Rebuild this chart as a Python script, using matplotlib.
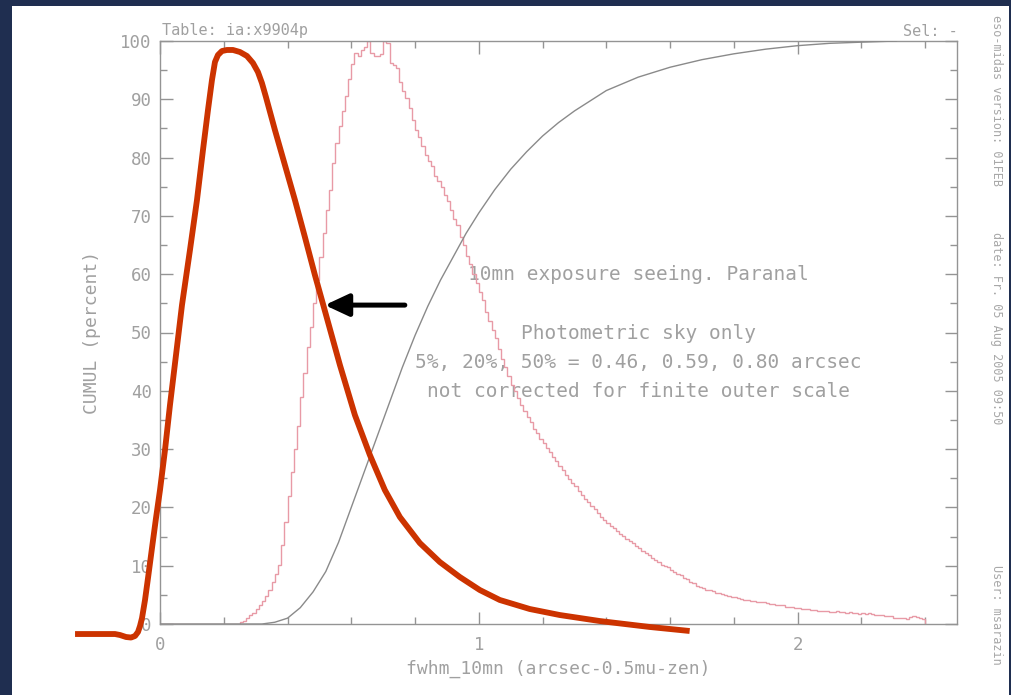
import numpy as np
import matplotlib.pyplot as plt
from matplotlib.patches import Rectangle
from matplotlib.ticker import MultipleLocator

# Seeing histogram, peak normalised to 100; 0.01 arcsec bins from 0.24 on
hist_start = 0.24
bin_width = 0.01
hist_counts = [
    0, 0.3, 0.5, 1.0, 1.5, 1.9,
    2.6, 3.3, 4.0, 4.8, 5.8, 7.2, 8.6, 10.2, 13.5, 17.5,
    22, 26, 30, 34, 39, 43, 47.5, 51, 55, 59,
    63, 67, 71, 74.5, 79, 82.5, 85.5, 88, 90.5, 93.5,
    96, 98, 97.5, 98.5, 99, 100, 98, 97.5, 97.5, 97.8,
    100, 99.7, 96.2, 95.8, 95.3, 93, 91.5, 90.2, 88.5, 86.5,
    84.7, 83.5, 82, 80.5, 79.5, 78.6, 76.8, 76, 75, 73.5,
    72.5, 71, 69.5, 68.5, 66.3, 65, 63.2, 61.8, 60, 58.5,
    57, 55.5, 53.5, 52, 50.5, 49, 47.2, 45.5, 44, 42.5,
    41, 40, 38.8, 37.5, 36.5, 35.5, 34.6, 33.5, 32.7, 31.8,
    31, 30.2, 29.5, 28.7, 28, 27.1, 26.5, 25.6, 24.9, 24.2,
    23.6, 22.8, 22.2, 21.5, 21, 20.2, 19.7, 19, 18.4, 17.9,
    17.4, 16.8, 16.5, 16, 15.4, 15.1, 14.6, 14.2, 13.9, 13.4,
    13, 12.5, 12.2, 11.8, 11.3, 11, 10.7, 10.2, 9.9, 9.8,
    9.3, 9, 8.6, 8.4, 7.9, 7.7, 7.2, 7.0, 6.6, 6.3,
    6.1, 5.9, 5.8, 5.6, 5.4, 5.3, 5.1, 4.9, 4.8, 4.7,
    4.6, 4.5, 4.3, 4.2, 4.1, 4.0, 3.9, 3.8, 3.8, 3.7,
    3.6, 3.5, 3.4, 3.3, 3.2, 3.2, 3.0, 2.9, 2.9, 2.8,
    2.7, 2.6, 2.6, 2.5, 2.4, 2.4, 2.3, 2.3, 2.2, 2.2,
    2.1, 2.1, 2.2, 2.0, 2.0, 1.9, 2.0, 1.9, 1.9, 1.8,
    1.9, 1.8, 1.9, 1.7, 1.6, 1.6, 1.5, 1.4, 1.3, 1.3,
    1.1, 1.0, 1.0, 1.1, 0.9, 1.2, 1.3, 1.2, 1.0, 0.9,
]

# Cumulative distribution (percent)
cumul_x = [0.0, 0.32, 0.36, 0.40, 0.44, 0.48, 0.52, 0.56, 0.60, 0.64, 0.68,
           0.72, 0.76, 0.80, 0.84, 0.88, 0.92, 0.96, 1.00, 1.05, 1.10,
           1.15, 1.20, 1.25, 1.30, 1.40, 1.50, 1.60, 1.70, 1.80, 1.90,
           2.00, 2.10, 2.20, 2.31]
cumul_y = [0, 0, 0.3, 1.0, 2.8, 5.5, 9.0, 14, 20, 26, 32,
           38, 44, 49.5, 54.5, 59, 63, 67, 70.5, 74.5, 78,
           81, 83.7, 86, 88, 91.5, 93.8, 95.5, 96.8, 97.8, 98.6,
           99.2, 99.6, 99.8, 100]

# Hand-drawn red curve laid over the plot
red_x = [-0.2665, -0.2038, -0.1411, -0.1254, -0.1066, -0.0909, -0.0784, -0.0690,
         -0.0627, -0.0564, -0.0470, -0.0376, -0.0251, -0.0125, 0.0, 0.0157,
         0.0313, 0.0502, 0.0690, 0.0940, 0.1160, 0.1348, 0.1505, 0.1630,
         0.1724, 0.1818, 0.1944, 0.2100, 0.2288, 0.2508, 0.2727, 0.2915,
         0.3072, 0.3197, 0.3323, 0.3605, 0.3918, 0.4232, 0.4545, 0.4859,
         0.5078, 0.5643, 0.6113, 0.6583, 0.7053, 0.7524, 0.8150, 0.8777,
         0.9404, 1.0031, 1.0658, 1.1599, 1.2539, 1.3793, 1.5361, 1.6614]
red_y = [-1.72, -1.72, -1.72, -1.89, -2.23, -2.32, -2.06, -1.37,
         -0.34, 1.03, 4.12, 7.89, 13.04, 18.18, 22.98, 29.85,
         37.56, 46.14, 54.72, 64.15, 72.73, 81.30, 88.16, 93.31,
         96.40, 97.60, 98.28, 98.46, 98.46, 98.11, 97.43, 96.23,
         94.68, 92.80, 90.39, 84.73, 78.73, 72.73, 66.38, 59.86,
         55.57, 44.43, 35.85, 28.99, 22.98, 18.35, 13.89, 10.63,
         8.06, 5.83, 4.12, 2.57, 1.54, 0.51, -0.51, -1.20]

arrow_from = (0.768, 54.7)
arrow_to = (0.517, 54.7)

notes = [
    "10mn exposure seeing. Paranal",
    "",
    "Photometric sky only",
    "5%, 20%, 50% = 0.46, 0.59, 0.80 arcsec",
    "not corrected for finite outer scale",
]

mono = "DejaVu Sans Mono"
grey = "#949494"
txt_grey = "#a0a0a0"

W, H = 1012, 695
fig = plt.figure(figsize=(W / 100, H / 100), dpi=100, facecolor="#1f2e50")
# white sheet on the dark background
fig.patches.append(Rectangle((12 / W, 0), (1009 - 12) / W, 1 - 6 / H,
                             transform=fig.transFigure, facecolor="white",
                             edgecolor="none", zorder=-1))

ax = fig.add_axes([160 / W, 1 - 624 / H, (957 - 160) / W, (624 - 41) / H])
ax.set_facecolor("white")
ax.set_xlim(0, 2.5)
ax.set_ylim(0, 100)

edges = np.concatenate([[0.0], hist_start + bin_width * np.arange(len(hist_counts) + 1)])
ax.stairs([0] + hist_counts, edges, color="#e89aa6", lw=1.0, zorder=2)
ax.plot(cumul_x, cumul_y, color="#8a8a8a", lw=1.0, zorder=3)

ax.plot(red_x, red_y, color="#cc3300", lw=4.2, solid_capstyle="butt",
        solid_joinstyle="round", clip_on=False, zorder=5)

ax.annotate("", xy=arrow_to, xytext=arrow_from,
            arrowprops=dict(arrowstyle="-|>,head_length=0.6,head_width=0.28",
                            lw=3.6, color="black", mutation_scale=24,
                            shrinkA=0, shrinkB=0), zorder=6)

y0 = 59.9
for i, line in enumerate(notes):
    ax.text(1.50, y0 - i * 5.0, line, ha="center", va="center",
            family=mono, fontsize=14, color=txt_grey, zorder=1)

for s in ax.spines.values():
    s.set_color(grey)
    s.set_linewidth(1.0)

ax.xaxis.set_major_locator(MultipleLocator(1))
ax.xaxis.set_minor_locator(MultipleLocator(0.2))
ax.yaxis.set_major_locator(MultipleLocator(10))
ax.yaxis.set_minor_locator(MultipleLocator(5))
ax.tick_params(which="both", direction="in", color=grey, width=1.0,
               top=True, right=True, labelcolor=txt_grey)
ax.tick_params(which="major", length=9)
ax.tick_params(which="minor", length=5)
ax.tick_params(axis="y", pad=6)
ax.tick_params(axis="x", pad=9)
for lab in ax.get_xticklabels() + ax.get_yticklabels():
    lab.set_family(mono)
    lab.set_fontsize(12.5)

ax.set_xlabel("fwhm_10mn (arcsec-0.5mu-zen)", family=mono, fontsize=13,
              color=txt_grey, labelpad=4)
ax.set_ylabel("CUMUL (percent)", family=mono, fontsize=13,
              color=txt_grey, labelpad=14)

fig.text(162 / W, 1 - 30 / H, "Table: ia:x9904p", family=mono, fontsize=11,
         color=txt_grey, ha="left", va="center")
fig.text(958 / W, 1 - 31 / H, "Sel: -", family=mono, fontsize=11,
         color=txt_grey, ha="right", va="center")

side = [("eso-midas version: 01FEB", 15),
        ("date: Fr. 05 Aug 2005 09:50", 232),
        ("User: msarazin", 565)]
for txt, top in side:
    fig.text(997 / W, 1 - top / H, txt, family=mono, fontsize=8.5,
             color="#a8a8a8", rotation=-90, ha="center", va="top")

fig.savefig("out.png", dpi=100, facecolor=fig.get_facecolor())
